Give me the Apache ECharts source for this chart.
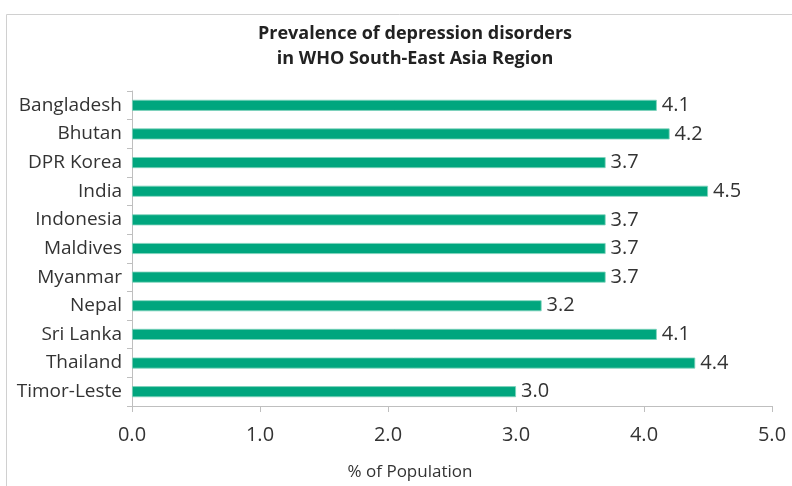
<!DOCTYPE html>
<html>
<head>
<meta charset="utf-8">
<script src="https://cdn.jsdelivr.net/npm/echarts@6/dist/echarts.min.js"></script>
<style>
  html, body { margin: 0; padding: 0; background: #fff; }
  #myChart { width: 792px; height: 486px; }
</style>
</head>
<body>
<div id="myChart"></div>
<script>
// 国家
var countries = ['Bangladesh', 'Bhutan', 'DPR Korea', 'India', 'Indonesia', 'Maldives',
    'Myanmar', 'Nepal', 'Sri Lanka', 'Thailand', 'Timor-Leste'];
// 患病率 %
var prevalence = [4.1, 4.2, 3.7, 4.5, 3.7, 3.7, 3.7, 3.2, 4.1, 4.4, 3.0];
var xTicks = [0, 1, 2, 3, 4, 5];

var myChart = echarts.init(document.getElementById('myChart'));
var option = {
    animation: false,
    title: {
        text: 'Prevalence of depression disorders\nin WHO South-East Asia Region',
        left: 410,
        textAlign: 'center',
        top: 16,
        textStyle: {
            fontFamily: 'Open Sans',
            fontSize: 18,
            fontWeight: 'bold',
            color: '#222',
            lineHeight: 25
        }
    },
    graphic: [{
        type: 'rect',
        shape: { x: 6.5, y: 14.5, width: 800, height: 500 },
        style: { fill: 'none', stroke: '#d0d0d0', lineWidth: 1 },
        silent: true
    }],
    grid: {
        top: 91,
        bottom: 80,
        left: 132,
        right: 20
    },
    xAxis: {
        type: 'value',
        min: xTicks[0],
        max: xTicks[xTicks.length - 1],
        interval: 1,
        name: '% of Population',
        nameLocation: 'middle',
        nameGap: 58,
        nameTextStyle: {
            fontFamily: 'Open Sans', fontSize: 17, color: '#333',
            padding: [0, 84, 0, 0]
        },
        splitLine: { show: false },
        axisLine: { show: true, lineStyle: { color: '#bfbfbf', width: 1 } },
        axisTick: { show: true, length: 6, lineStyle: { color: '#bfbfbf' } },
        axisLabel: {
            margin: 19,
            fontFamily: 'Open Sans',
            fontSize: 20,
            color: '#333',
            formatter: function (v) { return v.toFixed(1); }
        }
    },
    yAxis: {
        type: 'category',
        inverse: true,
        data: countries,
        axisLine: { show: true, lineStyle: { color: '#bfbfbf', width: 1 } },
        axisTick: { show: true, length: 5, lineStyle: { color: '#bfbfbf' } },
        axisLabel: {
            margin: 10,
            fontFamily: 'Open Sans',
            fontSize: 19,
            color: '#333'
        }
    },
    series: [{
        type: 'bar',
        data: prevalence,
        barWidth: 11,
        itemStyle: {
            color: '#00a67e',
            borderColor: '#7fd3bd',
            borderWidth: 0.8
        },
        label: {
            show: true,
            position: 'right',
            distance: 5,
            fontFamily: 'Open Sans',
            fontSize: 20,
            color: '#333',
            formatter: function (p) { return p.value.toFixed(1); }
        }
    }]
};
myChart.setOption(option);
window.onresize = myChart.resize;
</script>
</body>
</html>
